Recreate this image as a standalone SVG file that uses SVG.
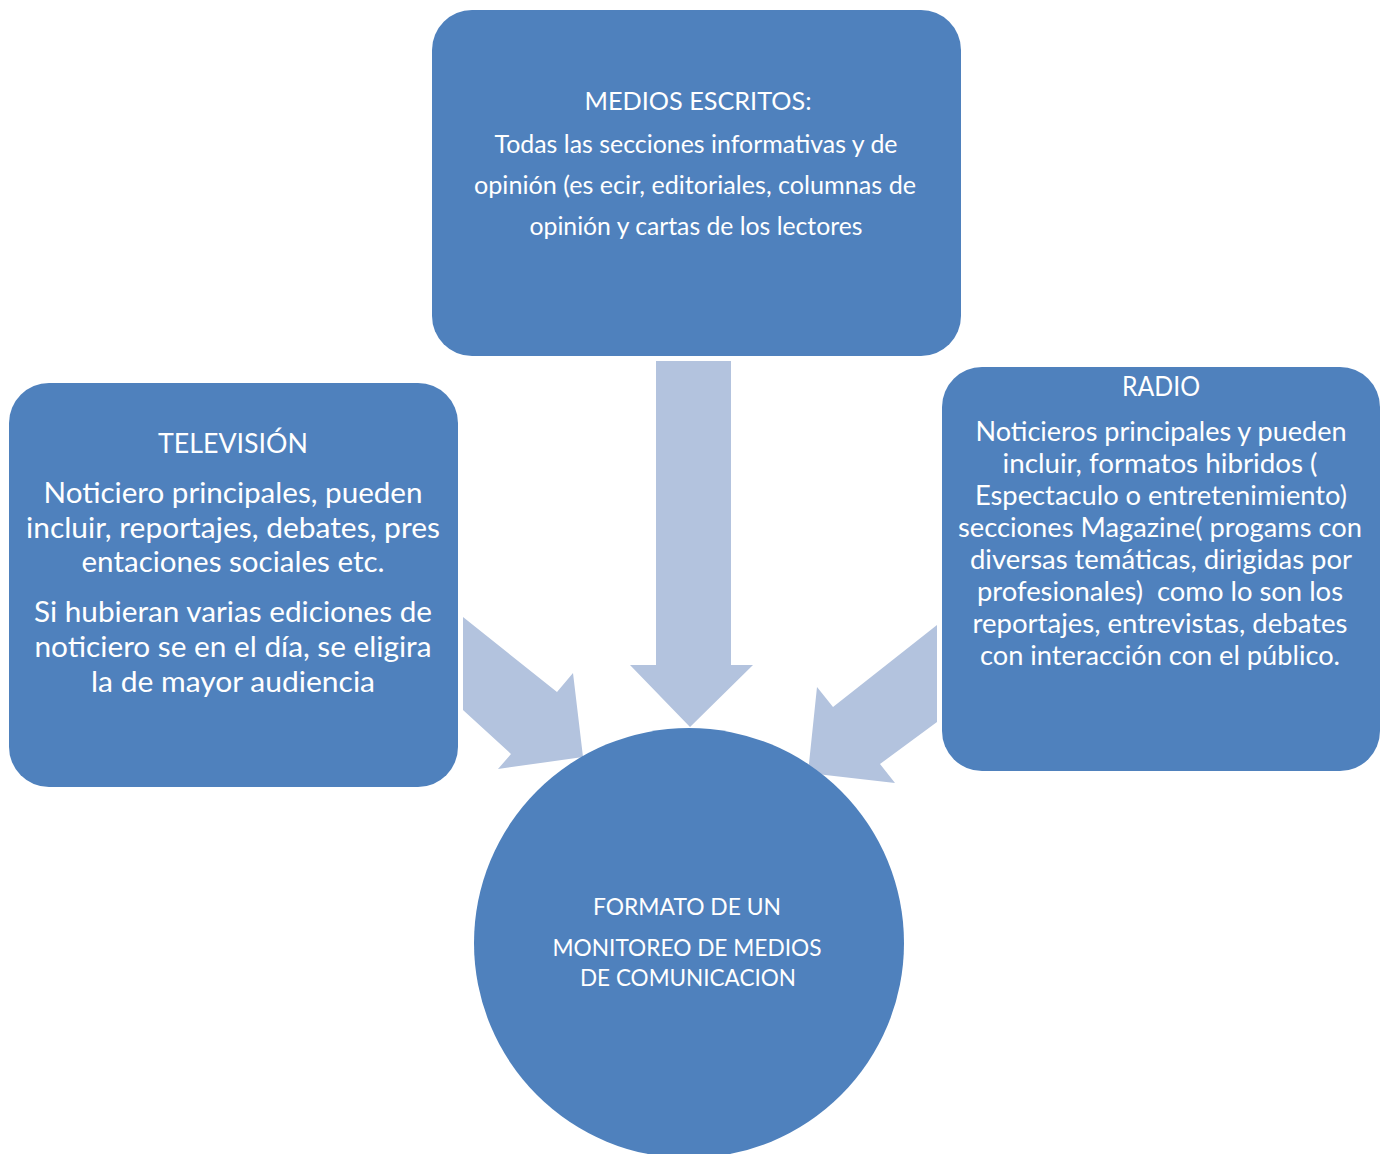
<svg xmlns="http://www.w3.org/2000/svg" width="1387" height="1154" viewBox="0 0 1387 1154">
<style>
.box{fill:#4F81BD}
.arr{fill:#B3C3DE}
text{font-family:Lato,"Open Sans","Liberation Sans",sans-serif;fill:#FFFFFF;text-anchor:middle}
.t1{font-size:25px}
.t2{font-size:28px}
.t3{font-size:26px}
.t4{font-size:23px}
</style>
<rect width="1387" height="1154" fill="#FFFFFF"/>
<g id="connectors">
<polygon class="arr" points="656,361 731,361 731,665 753,665 690,727 630,665 656,665"/>
<polygon class="arr" points="463,617 557,692 573,673 583,757 498,769 511,754 463,710"/>
<polygon class="arr" points="937,625 937,722 880,764 895,783 808,773 817,687 833,707"/>
</g>
<g id="medios-escritos">
<rect class="box" x="432" y="10" width="529" height="346" rx="40"/>
<text class="t1" x="698" y="110" textLength="227" lengthAdjust="spacingAndGlyphs">MEDIOS ESCRITOS:</text>
<text class="t1" x="696" y="153" textLength="403" lengthAdjust="spacingAndGlyphs">Todas las secciones informativas y de</text>
<text class="t1" x="695" y="194" textLength="442" lengthAdjust="spacingAndGlyphs">opinión (es ecir, editoriales, columnas de</text>
<text class="t1" x="696" y="235" textLength="333" lengthAdjust="spacingAndGlyphs">opinión y cartas de los lectores</text>
</g>
<g id="television">
<rect class="box" x="9" y="383" width="449" height="404" rx="40"/>
<text class="t3" x="233" y="453" textLength="150" lengthAdjust="spacingAndGlyphs">TELEVISIÓN</text>
<text class="t2" x="233" y="503" textLength="379" lengthAdjust="spacingAndGlyphs">Noticiero principales, pueden</text>
<text class="t2" x="233" y="538" textLength="414" lengthAdjust="spacingAndGlyphs">incluir, reportajes, debates, pres</text>
<text class="t2" x="233" y="572" textLength="303" lengthAdjust="spacingAndGlyphs">entaciones sociales etc.</text>
<text class="t2" x="233" y="622" textLength="398" lengthAdjust="spacingAndGlyphs">Si hubieran varias ediciones de</text>
<text class="t2" x="233" y="657" textLength="397" lengthAdjust="spacingAndGlyphs">noticiero se en el día, se eligira</text>
<text class="t2" x="233" y="692" textLength="284" lengthAdjust="spacingAndGlyphs">la de mayor audiencia</text>
</g>
<g id="radio">
<rect class="box" x="942" y="367" width="438" height="404" rx="40"/>
<text class="t3" x="1161" y="396" textLength="78" lengthAdjust="spacingAndGlyphs">RADIO</text>
<text class="t3" x="1161" y="441" textLength="371" lengthAdjust="spacingAndGlyphs">Noticieros principales y pueden</text>
<text class="t3" x="1160" y="473" textLength="315" lengthAdjust="spacingAndGlyphs">incluir, formatos hibridos (</text>
<text class="t3" x="1161" y="505" textLength="372" lengthAdjust="spacingAndGlyphs">Espectaculo o entretenimiento)</text>
<text class="t3" x="1160" y="537" textLength="404" lengthAdjust="spacingAndGlyphs">secciones Magazine( progams con</text>
<text class="t3" x="1161" y="569" textLength="382" lengthAdjust="spacingAndGlyphs">diversas temáticas, dirigidas por</text>
<text class="t3" x="1160" y="601" textLength="366" lengthAdjust="spacingAndGlyphs" xml:space="preserve">profesionales)  como lo son los</text>
<text class="t3" x="1160" y="633" textLength="375" lengthAdjust="spacingAndGlyphs">reportajes, entrevistas, debates</text>
<text class="t3" x="1160" y="665" textLength="360" lengthAdjust="spacingAndGlyphs">con interacción con el público.</text>
</g>
<g id="formato">
<circle class="box" cx="689" cy="943" r="215"/>
<text class="t4" x="687" y="915" textLength="188" lengthAdjust="spacingAndGlyphs">FORMATO DE UN</text>
<text class="t4" x="687" y="956" textLength="269" lengthAdjust="spacingAndGlyphs">MONITOREO DE MEDIOS</text>
<text class="t4" x="688" y="986" textLength="216" lengthAdjust="spacingAndGlyphs">DE COMUNICACION</text>
</g>
</svg>
